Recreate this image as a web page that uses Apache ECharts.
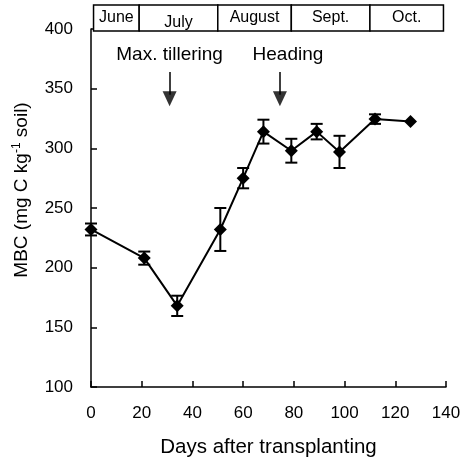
<!DOCTYPE html>
<html lang="en">
<head>
<meta charset="UTF-8">
<title>MBC after transplanting</title>
<script src="https://cdn.jsdelivr.net/npm/echarts@6/dist/echarts.min.js"></script>
</head>
<body style="margin:0">
<div id="main" style="width:464px;height:463px"></div>
<script>
// values
var days = [0, 21, 34, 51, 60, 68, 79, 89, 98, 112, 126]
var mbc = [232, 208, 168, 232, 275, 314, 298, 314, 297, 324.5, 322.5]
var err = [5, 5.5, 8.5, 18, 8.5, 10, 10, 6.5, 13.5, 4, 0]
var months = ['June', 'July', 'August', 'Sept.', 'Oct.']
var monthEdges = [1, 19, 50, 79, 110, 139]
var stages = ['Max. tillering', 'Heading']
var stageDays = [31, 74.5]

var font = 'Liberation Sans'
var myChart = echarts.init(document.getElementById('main'))

var lineData = days.map(function (d, i) { return [d, mbc[i]] })
var errData = []
days.forEach(function (d, i) {
    if (err[i] > 0) errData.push([d, mbc[i] - err[i], mbc[i] + err[i]])
})
var monthData = months.map(function (m, i) { return [monthEdges[i], monthEdges[i + 1], m] })

var axisCommon = {
    axisLine: { lineStyle: { color: '#000', width: 1.5 } },
    axisTick: { inside: true, length: 6, lineStyle: { color: '#000', width: 1.5 } },
    axisLabel: { color: '#000', fontSize: 17, fontFamily: font, margin: 18 },
    splitLine: { show: false }
}

var option = {
    animation: false,
    backgroundColor: '#fff',
    grid: [
        { left: 91, right: 18, top: 29, bottom: 76 },
        { left: 91, right: 18, top: 5, height: 26 }
    ],
    xAxis: [
        Object.assign({
            type: 'value', min: 0, max: 140, interval: 20,
            name: 'Days after transplanting', nameLocation: 'middle', nameGap: 50,
            nameTextStyle: { color: '#000', fontSize: 20.5, fontFamily: font }
        }, axisCommon),
        { type: 'value', gridIndex: 1, min: 0, max: 140, show: false }
    ],
    yAxis: [
        Object.assign({
            type: 'value', min: 100, max: 400, interval: 50,
            name: 'MBC (mg C kg{sup|-1} soil)', nameLocation: 'middle', nameGap: 58,
            nameTextStyle: {
                color: '#000', fontSize: 19, fontFamily: font, padding: [0, 0, 0, 36],
                rich: { sup: { fontSize: 12, fontFamily: font, color: '#000', verticalAlign: 'top', padding: [0, 0, 10, 0] } }
            }
        }, axisCommon),
        { type: 'value', gridIndex: 1, min: 0, max: 1, show: false }
    ],
    series: [
        {
            type: 'custom',
            xAxisIndex: 1, yAxisIndex: 1,
            data: monthData,
            renderItem: function (params, api) {
                var p0 = api.coord([api.value(0), 1])
                var p1 = api.coord([api.value(1), 0])
                var dy = params.dataIndex === 1 ? 5 : 0 // July sits lower in the original
                return {
                    type: 'group',
                    children: [{
                        type: 'rect',
                        shape: { x: p0[0], y: p0[1], width: p1[0] - p0[0], height: p1[1] - p0[1] },
                        style: { fill: '#fff', stroke: '#000', lineWidth: 1.5 }
                    }, {
                        type: 'text',
                        x: (p0[0] + p1[0]) / 2, y: (p0[1] + p1[1]) / 2 + dy,
                        style: {
                            text: months[params.dataIndex], align: 'center', verticalAlign: 'middle',
                            font: '16px "' + font + '"', fill: '#000'
                        }
                    }]
                }
            }
        },
        {
            type: 'custom',
            data: errData,
            z: 3,
            renderItem: function (params, api) {
                var top = api.coord([api.value(0), api.value(2)])
                var bot = api.coord([api.value(0), api.value(1)])
                var w = 6
                var st = { stroke: '#000', lineWidth: 2 }
                return {
                    type: 'group',
                    children: [
                        { type: 'line', shape: { x1: top[0], y1: top[1], x2: bot[0], y2: bot[1] }, style: st },
                        { type: 'line', shape: { x1: top[0] - w, y1: top[1], x2: top[0] + w, y2: top[1] }, style: st },
                        { type: 'line', shape: { x1: bot[0] - w, y1: bot[1], x2: bot[0] + w, y2: bot[1] }, style: st }
                    ]
                }
            }
        },
        {
            type: 'line',
            data: lineData,
            z: 4,
            symbol: 'diamond',
            symbolSize: 13,
            lineStyle: { color: '#000', width: 2 },
            itemStyle: { color: '#000' }
        },
        {
            // growth stage arrows
            type: 'scatter',
            data: stageDays.map(function (d) { return [d, 341.5] }),
            symbol: 'triangle',
            symbolRotate: 180,
            symbolSize: [14, 15],
            itemStyle: { color: '#000' },
            silent: true,
            markLine: {
                silent: true,
                symbol: 'none',
                lineStyle: { color: '#000', width: 1.5, type: 'solid' },
                label: { show: true, position: 'start', formatter: '{b}', color: '#000', fontSize: 19, fontFamily: font, distance: 8 },
                data: stageDays.map(function (d, i) {
                    var start = { name: stages[i], coord: [d, 364] }
                    if (i === 1) start.label = { padding: [0, 0, 0, 16] } // text sits right of the arrow
                    return [start, { coord: [d, 345] }]
                })
            }
        }
    ]
}
myChart.setOption(option)
</script>
</body>
</html>
